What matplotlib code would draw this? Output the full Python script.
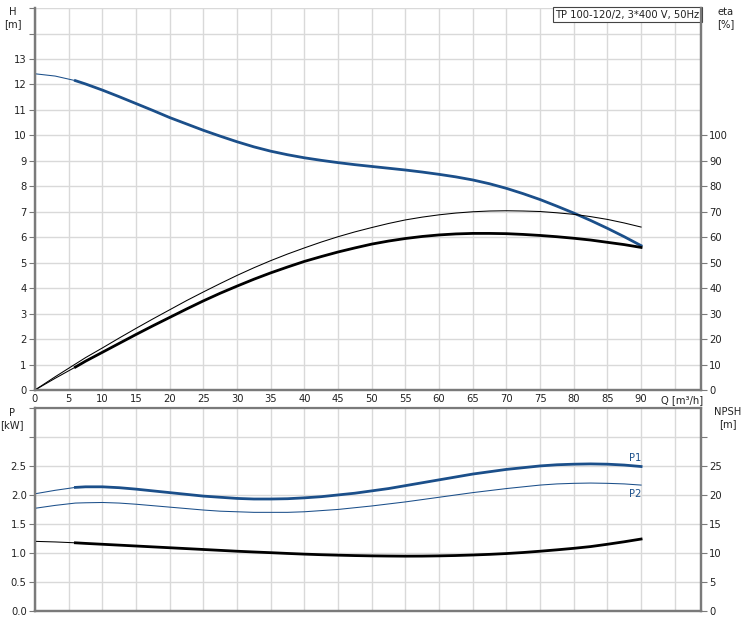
import numpy as np
import matplotlib.pyplot as plt

# flow rate, m3/h
q = [0, 3, 6, 7.5, 10, 12.5, 15, 17.5, 20, 22.5, 25, 27.5, 30, 32.5, 35, 37.5,
     40, 42.5, 45, 47.5, 50, 52.5, 55, 57.5, 60, 62.5, 65, 67.5, 70, 72.5, 75,
     77.5, 80, 82.5, 85, 87.5, 90]

head = [12.42, 12.33, 12.15, 12.02, 11.78, 11.52, 11.25, 10.98, 10.7, 10.45,
        10.2, 9.97, 9.75, 9.55, 9.38, 9.24, 9.12, 9.02, 8.93, 8.85, 8.78, 8.71,
        8.64, 8.56, 8.47, 8.37, 8.25, 8.1, 7.92, 7.71, 7.48, 7.22, 6.95, 6.66,
        6.35, 6.02, 5.67]
eta_tot = [0, 5.2, 10.2, 12.7, 16.5, 20.4, 24.2, 27.9, 31.5, 35.1, 38.5, 41.8,
           45, 48, 50.8, 53.4, 55.8, 58.1, 60.2, 62.1, 63.8, 65.4, 66.8, 67.9,
           68.8, 69.5, 70, 70.3, 70.4, 70.3, 70.1, 69.6, 69, 68.1, 67, 65.6, 64]
eta_pump = [0, 4.6, 9, 11.3, 14.8, 18.3, 21.8, 25.2, 28.5, 31.8, 35, 38, 40.8,
            43.5, 46, 48.3, 50.5, 52.4, 54.2, 55.8, 57.3, 58.5, 59.5, 60.3,
            60.9, 61.3, 61.5, 61.5, 61.4, 61.1, 60.7, 60.2, 59.6, 58.9, 58,
            57.1, 56]

p1 = [2.02, 2.08, 2.13, 2.14, 2.14, 2.125, 2.1, 2.07, 2.04, 2.01, 1.98, 1.96,
      1.94, 1.93, 1.93, 1.935, 1.95, 1.97, 2.0, 2.03, 2.07, 2.11, 2.16, 2.21,
      2.26, 2.31, 2.36, 2.40, 2.44, 2.47, 2.5, 2.52, 2.53, 2.535, 2.53, 2.515,
      2.49]
p2 = [1.77, 1.82, 1.86, 1.865, 1.87, 1.86, 1.84, 1.815, 1.79, 1.765, 1.74,
      1.72, 1.71, 1.70, 1.70, 1.70, 1.71, 1.73, 1.75, 1.78, 1.81, 1.845, 1.88,
      1.92, 1.96, 2.0, 2.04, 2.075, 2.11, 2.14, 2.17, 2.19, 2.2, 2.205, 2.2,
      2.19, 2.17]
npsh = [12.0, 11.9, 11.75, 11.65, 11.5, 11.35, 11.2, 11.05, 10.9, 10.75, 10.6,
        10.45, 10.3, 10.17, 10.05, 9.92, 9.8, 9.7, 9.62, 9.55, 9.5, 9.47, 9.45,
        9.46, 9.5, 9.56, 9.65, 9.76, 9.9, 10.08, 10.3, 10.54, 10.8, 11.1, 11.5,
        11.93, 12.4]

title = "TP 100-120/2, 3*400 V, 50Hz"

blue = "#1b4f8a"
gridc = "#d9d9d9"
spinec = "#7a7a7a"
txt = "#222222"
fs = 7.2
thin = 0.75
thick = 2.0
k = 2  # thick part starts at q = 6

fig = plt.figure(figsize=(7.46, 6.22), dpi=100)
ax = fig.add_axes([0.0469, 0.373, 0.8928, 0.614])
ax2 = ax.twinx()
bx = fig.add_axes([0.0469, 0.0177, 0.8928, 0.3265])
bx2 = bx.twinx()

def style(a, a2):
    a.set_xlim(0, 98.9)
    a.set_xticks(np.arange(0, 96, 5))
    a.grid(True, color=gridc, lw=1.0)
    a.set_axisbelow(True)
    for s in ["left", "right", "bottom"]:
        a.spines[s].set_color(spinec)
        a.spines[s].set_linewidth(1.6)
        a2.spines[s].set_color(spinec)
        a2.spines[s].set_linewidth(1.6)
    a.spines["top"].set_visible(False)
    a2.spines["top"].set_visible(False)
    a.tick_params(axis="y", length=4, color=spinec, labelsize=fs, labelcolor=txt, pad=2)
    a2.tick_params(axis="y", length=4, color=spinec, labelsize=fs, labelcolor=txt, pad=2)

style(ax, ax2)
style(bx, bx2)

# top: head + efficiency
ax.set_ylim(0, 15)
ax.set_yticks(range(0, 16))
ax.set_yticklabels([str(i) if i <= 13 else "" for i in range(0, 16)])
ax2.set_ylim(0, 150)
ax2.set_yticks(range(0, 101, 10))
ax.tick_params(axis="x", length=0, labelsize=fs, labelcolor=txt, pad=3)
xl = [str(v) for v in range(0, 96, 5)]
xl[-1] = ""
ax.set_xticklabels(xl)

ax.plot(q, head, color=blue, lw=thin)
ax.plot(q[k:], head[k:], color=blue, lw=thick)
ax2.plot(q, eta_tot, color="black", lw=thin)
ax2.plot(q, eta_pump, color="black", lw=thin)
ax2.plot(q[k:], eta_pump[k:], color="black", lw=thick)

# bottom: power + npsh
bx.set_ylim(0, 3.5)
bx.set_yticks(np.arange(0, 3.51, 0.5))
bx.set_yticklabels(["%.1f" % v if v <= 2.5 else "" for v in np.arange(0, 3.51, 0.5)])
bx2.set_ylim(0, 35)
bx2.set_yticks(range(0, 31, 5))
bx2.set_yticklabels([str(v) if v <= 25 else "" for v in range(0, 31, 5)])
bx.tick_params(axis="x", length=0, labelbottom=False)
bx.spines["top"].set_visible(True)
bx.spines["top"].set_color(spinec)
bx.spines["top"].set_linewidth(1.6)

bx.plot(q, p1, color=blue, lw=thin)
bx.plot(q[k:], p1[k:], color=blue, lw=thick)
bx.plot(q, p2, color=blue, lw=thin)
bx2.plot(q, npsh, color="black", lw=thin)
bx2.plot(q[k:], npsh[k:], color="black", lw=thick)

bx.text(q[-1], p1[-1] + 0.06, "P1", color=blue, fontsize=fs, ha="right", va="bottom")
bx.text(q[-1], p2[-1] - 0.06, "P2", color=blue, fontsize=fs, ha="right", va="top")

# axis labels
fig.text(13 / 746, 1 - 18 / 622, "H\n[m]", fontsize=fs, color=txt, ha="center", va="center", linespacing=1.2)
fig.text(726 / 746, 1 - 18 / 622, "eta\n[%]", fontsize=fs, color=txt, ha="center", va="center", linespacing=1.2)
fig.text(12 / 746, 1 - 419 / 622, "P\n[kW]", fontsize=fs, color=txt, ha="center", va="center", linespacing=1.2)
fig.text(728 / 746, 1 - 418 / 622, "NPSH\n[m]", fontsize=fs, color=txt, ha="center", va="center", linespacing=1.2)
fig.text(661 / 746, 1 - 400 / 622, "Q [m\u00b3/h]", fontsize=fs, color=txt, ha="left", va="center")

ax.text(0.998, 0.995, title, transform=ax.transAxes, fontsize=fs, color=txt,
        ha="right", va="top",
        bbox=dict(boxstyle="square,pad=0.25", fc="white", ec="#444444", lw=0.8))

fig.savefig("out.png", dpi=100)
